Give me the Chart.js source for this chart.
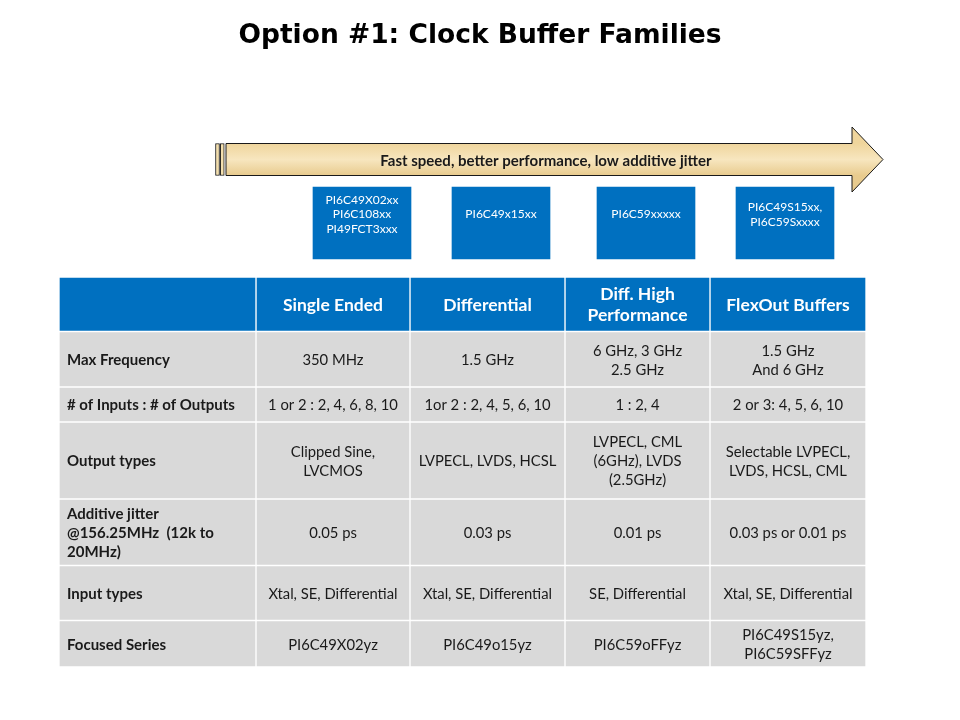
<!DOCTYPE html>
<html>
<head>
<meta charset="utf-8">
<style>
  html, body { margin: 0; padding: 0; background: #fff; }
  canvas { display: block; }
</style>
</head>
<body>
<canvas id="slide" width="960" height="720"></canvas>
<script src="https://cdn.jsdelivr.net/npm/chart.js"></script>
<script>
// ---- content ----
const title = 'Option #1: Clock Buffer Families';
const arrowText = 'Fast speed, better performance, low additive jitter';
const families = ['PI6C49X02xx\nPI6C108xx\nPI49FCT3xxx', 'PI6C49x15xx', 'PI6C59xxxxx', 'PI6C49S15xx,\nPI6C59Sxxxx'];
const columns = ['Single Ended', 'Differential', 'Diff. High\nPerformance', 'FlexOut Buffers'];
const rowLabels = ['Max Frequency', '# of Inputs : # of Outputs', 'Output types',
  'Additive jitter\n@156.25MHz  (12k to\n20MHz)', 'Input types', 'Focused Series'];
const singleEnded = ['350 MHz', '1 or 2 : 2, 4, 6, 8, 10', 'Clipped Sine,\nLVCMOS', '0.05 ps', 'Xtal, SE, Differential', 'PI6C49X02yz'];
const differential = ['1.5 GHz', '1or 2 : 2, 4, 5, 6, 10', 'LVPECL, LVDS, HCSL', '0.03 ps', 'Xtal, SE, Differential', 'PI6C49o15yz'];
const diffHigh = ['6 GHz, 3 GHz\n2.5 GHz', '1 : 2, 4', 'LVPECL, CML\n(6GHz), LVDS\n(2.5GHz)', '0.01 ps', 'SE, Differential', 'PI6C59oFFyz'];
const flexOut = ['1.5 GHz\nAnd 6 GHz', '2 or 3: 4, 5, 6, 10', 'Selectable LVPECL,\nLVDS, HCSL, CML', '0.03 ps or 0.01 ps', 'Xtal, SE, Differential', 'PI6C49S15yz,\nPI6C59SFFyz'];

// ---- layout (slide pixels, the scales run 1:1 with the page) ----
const colEdges = [59, 256, 410, 565, 710, 866];
const rowEdges = [277, 331.5, 387, 422, 499, 565.5, 620.5, 667];
const boxLefts = [313, 452, 597, 736];
const boxWidth = 98, boxTop = 187, boxBottom = 259;
const arrow = { x0: 226, neck: 852, tip: 883, top: 143.5, bottom: 175.5, headTop: 127, headBottom: 192, textX: 546 };
const stripes = [[215.5, 219.5], [220, 224.5]];

const BLUE = '#0070c0', GREY = '#d9d9d9', INK = '#1a1a1a';
const BODY_FONT = 'Lato, "Open Sans", sans-serif';

const mid = (a, b) => (a + b) / 2;

const tableCols = [[''].concat(rowLabels), [columns[0]].concat(singleEnded), [columns[1]].concat(differential),
  [columns[2]].concat(diffHigh), [columns[3]].concat(flexOut)];

const tableSets = tableCols.map((texts, c) => ({
  type: 'bar',
  kind: c === 0 ? 'label' : 'cell',
  texts: texts,
  data: texts.map((t, r) => ({ x: mid(colEdges[c], colEdges[c + 1]), y: [rowEdges[r], rowEdges[r + 1]] })),
  barThickness: colEdges[c + 1] - colEdges[c],
  backgroundColor: ctx => ctx.dataIndex === 0 ? BLUE : GREY,
  borderColor: '#ffffff',
  borderWidth: 1,
  borderSkipped: false
}));

const boxSet = {
  type: 'bar',
  kind: 'box',
  texts: families,
  data: boxLefts.map(l => ({ x: l + boxWidth / 2, y: [boxTop, boxBottom] })),
  barThickness: boxWidth,
  backgroundColor: BLUE,
  borderWidth: 0
};

function arrowFill(context) {
  const chart = context.chart;
  if (!chart.chartArea) return '#f0d9a4';
  const y = chart.scales.y;
  const g = chart.ctx.createLinearGradient(0, y.getPixelForValue(arrow.top), 0, y.getPixelForValue(arrow.bottom));
  g.addColorStop(0, '#efd59c');
  g.addColorStop(0.5, '#f7e6bf');
  g.addColorStop(1, '#e8cb8e');
  return g;
}

const arrowSet = {
  type: 'line',
  kind: 'arrow',
  data: [
    { x: arrow.x0, y: arrow.top }, { x: arrow.neck, y: arrow.top }, { x: arrow.neck, y: arrow.headTop },
    { x: arrow.tip, y: mid(arrow.headTop, arrow.headBottom) }, { x: arrow.neck, y: arrow.headBottom },
    { x: arrow.neck, y: arrow.bottom }, { x: arrow.x0, y: arrow.bottom }, { x: arrow.x0, y: arrow.top }
  ],
  fill: 'shape',
  backgroundColor: arrowFill,
  borderColor: INK,
  borderWidth: 1,
  tension: 0,
  pointRadius: 0
};

const stripeSet = {
  type: 'bar',
  kind: 'stripe',
  data: stripes.map(s => ({ x: mid(s[0], s[1]), y: [arrow.top, arrow.bottom] })),
  barThickness: stripes[0][1] - stripes[0][0],
  backgroundColor: '#f3dfae',
  borderColor: INK,
  borderWidth: 1,
  borderSkipped: false
};

function drawLines(ctx, lines, x, cy, lh) {
  const y0 = cy - (lines.length - 1) * lh / 2;
  lines.forEach((l, i) => ctx.fillText(l, x, y0 + i * lh));
}

const slideText = {
  id: 'slideText',
  afterDatasetsDraw(chart) {
    const ctx = chart.ctx;
    ctx.save();
    ctx.textBaseline = 'middle';
    chart.data.datasets.forEach((ds, i) => {
      const meta = chart.getDatasetMeta(i);
      if (ds.kind === 'arrow') {
        ctx.font = 'bold 15px ' + BODY_FONT;
        ctx.fillStyle = INK;
        ctx.textAlign = 'center';
        ctx.fillText(arrowText, chart.scales.x.getPixelForValue(arrow.textX),
          chart.scales.y.getPixelForValue(mid(arrow.top, arrow.bottom)) + 1.5);
        return;
      }
      if (!ds.texts) return;
      meta.data.forEach((bar, j) => {
        const t = ds.texts[j];
        if (!t) return;
        const p = bar.getProps(['x', 'y', 'base', 'width'], true);
        const cy = mid(p.y, p.base) + 1;
        const lines = t.split('\n');
        if (ds.kind === 'box') {
          ctx.font = '12px ' + BODY_FONT;
          ctx.fillStyle = '#ffffff';
          ctx.textAlign = 'center';
          drawLines(ctx, lines, p.x, cy - 9.5, 14.5);
        } else if (j === 0) {
          ctx.font = 'bold 17.5px ' + BODY_FONT;
          ctx.fillStyle = '#ffffff';
          ctx.textAlign = 'center';
          drawLines(ctx, lines, p.x, cy, 21);
        } else if (ds.kind === 'label') {
          ctx.font = 'bold 15px ' + BODY_FONT;
          ctx.fillStyle = INK;
          ctx.textAlign = 'left';
          drawLines(ctx, lines, p.x - p.width / 2 + 8, cy, 19);
        } else {
          ctx.font = '14.8px ' + BODY_FONT;
          ctx.fillStyle = INK;
          ctx.textAlign = 'center';
          drawLines(ctx, lines, p.x, cy, 19);
        }
      });
    });
    ctx.restore();
  }
};

new Chart(document.getElementById('slide'), {
  type: 'bar',
  data: { datasets: [arrowSet, stripeSet, boxSet].concat(tableSets) },
  options: {
    responsive: false,
    animation: false,
    events: [],
    grouped: false,
    layout: { padding: 0 },
    scales: {
      x: { type: 'linear', min: 0, max: 960, display: false, offset: false },
      y: { type: 'linear', min: 53, max: 720, reverse: true, display: false }
    },
    plugins: {
      legend: { display: false },
      tooltip: { enabled: false },
      title: {
        display: true,
        text: title,
        color: '#000',
        font: { family: '"DejaVu Sans", Verdana, sans-serif', size: 26.5, weight: 'bold', lineHeight: 1.2 },
        padding: { top: 20, bottom: 1.2 }
      }
    }
  },
  plugins: [slideText]
});
</script>
</body>
</html>
